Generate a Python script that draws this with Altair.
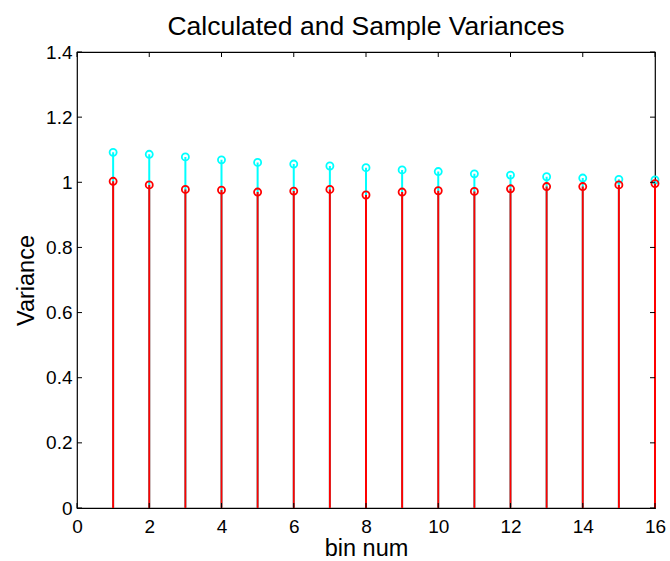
import altair as alt
import pandas as pd

bins = list(range(1, 17))
calculated = [1.092, 1.086, 1.078, 1.069, 1.061, 1.056, 1.050, 1.045,
              1.038, 1.033, 1.026, 1.022, 1.017, 1.013, 1.009, 1.007]
sample = [1.003, 0.992, 0.978, 0.976, 0.970, 0.973, 0.978, 0.961,
          0.970, 0.974, 0.972, 0.980, 0.987, 0.987, 0.992, 0.996]
x_ticks = [0, 2, 4, 6, 8, 10, 12, 14, 16]
y_ticks = [0, 0.2, 0.4, 0.6, 0.8, 1.0, 1.2, 1.4]

W, H = 578, 456
FONT = "Liberation Sans"

calc_df = pd.DataFrame({"bin": bins, "value": calculated, "zero": 0.0})
samp_df = pd.DataFrame({"bin": bins, "value": sample, "zero": 0.0})
xt_df = pd.DataFrame({"t": x_ticks})
yt_df = pd.DataFrame({"t": y_ticks})

xscale = alt.Scale(domain=[0, 16], nice=False, zero=False)
yscale = alt.Scale(domain=[0, 1.4], nice=False)

xaxis = alt.Axis(values=x_ticks, format="~g", title="bin num",
                 titleX=W / 2, titleY=47, titleBaseline="alphabetic",
                 labelPadding=9, labelAngle=0, labelFlush=False)
yaxis = alt.Axis(values=y_ticks, format="~g", title="Variance",
                 titleX=-44, titleY=H / 2, titleBaseline="alphabetic",
                 titleAngle=270, titleAlign="center", labelPadding=5,
                 labelFlush=False)


def stems(df, color):
    return alt.Chart(df).mark_rule(color=color, strokeWidth=2).encode(
        x=alt.X("bin:Q", scale=xscale, axis=xaxis),
        y=alt.Y("zero:Q", scale=yscale, axis=yaxis),
        y2="value:Q",
    )


def heads(df, color):
    return alt.Chart(df).mark_point(
        shape="circle", filled=False, color=color, size=50, strokeWidth=1.8,
        opacity=1,
    ).encode(
        x=alt.X("bin:Q", scale=xscale),
        y=alt.Y("value:Q", scale=yscale),
    )


tick_len = 5
ytick_left = alt.Chart(yt_df).mark_rule(color="black", strokeWidth=1).encode(
    y=alt.Y("t:Q", scale=yscale), x=alt.value(0), x2=alt.value(tick_len))
ytick_right = alt.Chart(yt_df).mark_rule(color="black", strokeWidth=1).encode(
    y=alt.Y("t:Q", scale=yscale), x=alt.value(W), x2=alt.value(W - tick_len))
xtick_bottom = alt.Chart(xt_df).mark_rule(color="black", strokeWidth=1).encode(
    x=alt.X("t:Q", scale=xscale), y=alt.value(H), y2=alt.value(H - tick_len))
xtick_top = alt.Chart(xt_df).mark_rule(color="black", strokeWidth=1).encode(
    x=alt.X("t:Q", scale=xscale), y=alt.value(0), y2=alt.value(tick_len))

chart = alt.layer(
    stems(calc_df, "#00FFFF"),
    heads(calc_df, "#00FFFF"),
    stems(samp_df, "#FF0000"),
    heads(samp_df, "#FF0000"),
    ytick_left, ytick_right, xtick_bottom, xtick_top,
).properties(
    width=W,
    height=H,
    title=alt.TitleParams(
        "Calculated and Sample Variances", font=FONT, fontSize=26.5,
        fontWeight="normal", color="black", anchor="middle", offset=3,
    ),
    autosize=alt.AutoSizeParams(type="none"),
    padding={"left": 77, "top": 52, "right": 15, "bottom": 53},
).configure(
    background="white",
).configure_view(
    stroke="black", strokeWidth=1.2, fill="white",
).configure_axis(
    domain=False, ticks=False, grid=False,
    labelFont=FONT, labelFontSize=19, labelColor="black",
    titleFont=FONT, titleFontSize=23.5, titleColor="black",
    titleFontWeight="normal",
)

chart.save("out.html", embed_options={"renderer": "svg", "actions": False})
